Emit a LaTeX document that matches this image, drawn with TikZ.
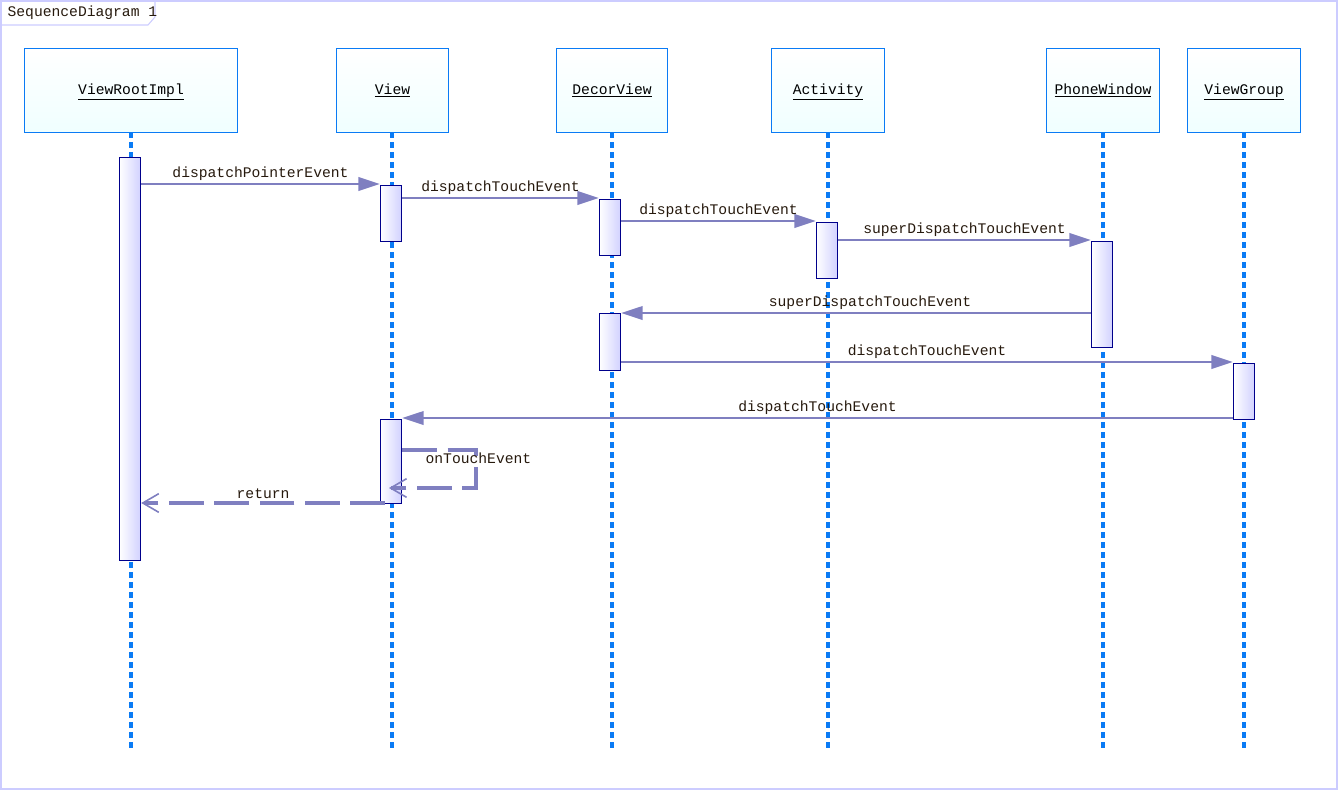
\documentclass[tikz,border=0pt]{standalone}
\usepackage{fontspec}
\setmainfont{Liberation Mono}
\usetikzlibrary{arrows.meta,calc}
\definecolor{life}{HTML}{0A7BF5}
\definecolor{msg}{HTML}{7F7FC0}
\definecolor{act}{HTML}{00008B}
\begin{document}
\begin{tikzpicture}[x=0.75pt,y=-0.75pt,
 obj/.style={draw=life,line width=0.8pt,top color=white,bottom color=cyan!6,minimum height=63pt,inner sep=0pt},
 lifel/.style={draw=life,line width=3pt,dash pattern=on 4.5pt off 3pt},
 actv/.style={draw=act,line width=0.8pt,left color=white,right color=blue!18},
 call/.style={draw=msg,line width=1.8pt,-{Triangle[length=16pt,width=10pt]}},
 ret/.style={draw=msg,line width=2.8pt,dash pattern=on 26pt off 8pt,-{Straight Barb[length=12pt,width=14pt,line width=1.2pt]}},
 lab/.style={font=\fontsize{11}{12}\selectfont,text=black!80!brown,inner sep=1pt}]
\useasboundingbox (0,0) rectangle (1340,793);
\draw[blue!20,line width=1pt] (1,1) rectangle (1337,789);
\draw[blue!20,line width=0.8pt] (1,25) -- (148,25) -- (155,17) -- (155,1);
\node[lab,anchor=west] (title) at (6,13) {SequenceDiagram 1};
% objects
\foreach \n/\l/\r/\t in {vri/24/237/ViewRootImpl,vw/336/448/View,dv/556/667/DecorView,ac/771/884/Activity,pw/1046/1159/PhoneWindow,vg/1187/1300/ViewGroup}{
 \coordinate (\n top) at ({(\l+\r)/2},132);
 \coordinate (\n end) at ({(\l+\r)/2},750);
 \draw[lifel] (\n top) -- (\n end);
 \node[obj,minimum width={(\r-\l)*0.75pt},anchor=north west,text height=8pt,text depth=2pt] (\n) at (\l,48) {\fontsize{11}{12}\selectfont\underline{\t}};
}
% activations
\foreach \n/\x/\a/\b in {a1/130/157/560,a2/391/185/241,a3/610/199/255,a4/827/222/278,a5/1102/241/347,a6/610/313/370,a7/1244/363/419,a8/391/419/503}{
 \node[actv,minimum width=16pt,minimum height={(\b-\a)*0.75pt},inner sep=0pt,anchor=north] (\n) at (\x,\a) {};
}
\draw[call] (a1.east|-0,184) -- node[lab,above=1pt]{dispatchPointerEvent} (a2.north west|-0,184);
\draw[call] (a2.east|-0,198) -- node[lab,above=1pt]{dispatchTouchEvent} (a3.north west|-0,198);
\draw[call] (a3.east|-0,221) -- node[lab,above=1pt]{dispatchTouchEvent} (a4.north west|-0,221);
\draw[call] (a4.east|-0,240) -- node[lab,above=1pt]{superDispatchTouchEvent} (a5.north west|-0,240);
\draw[call] (a5.west|-0,313) -- node[lab,above=1pt,pos=0.47]{superDispatchTouchEvent} (a6.north east|-0,313);
\draw[call] (a6.east|-0,362) -- node[lab,above=1pt]{dispatchTouchEvent} (a7.north west|-0,362);
\draw[call] (a7.west|-0,418) -- node[lab,above=1pt]{dispatchTouchEvent} (a8.north east|-0,418);
\coordinate (s1) at (476,450);
\coordinate (s2) at (476,488);
\draw[ret] (a8.east|-0,450) -- (s1) -- (s2) -- (389,488);
\node[lab,anchor=west] (ote) at (424,458) {onTouchEvent};
\draw[ret] (385,503) -- node[lab,above=1pt]{return} (a1.east|-0,503);
\end{tikzpicture}
\end{document}
